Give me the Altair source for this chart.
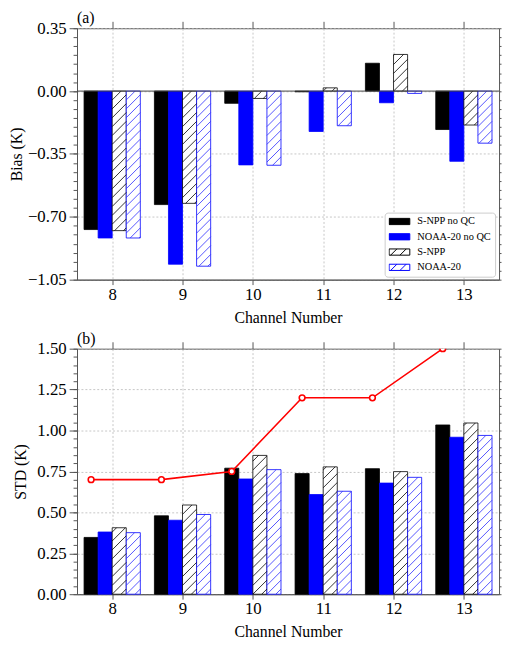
import altair as alt
import pandas as pd
import numpy as np

channels = [8, 9, 10, 11, 12, 13]
series = ["S-NPP no QC", "NOAA-20 no QC", "S-NPP", "NOAA-20"]
hatched = ["S-NPP", "NOAA-20"]

bias_snpp_noqc = [-0.771, -0.632, -0.068, -0.004, 0.155, -0.214]
bias_n20_noqc = [-0.818, -0.964, -0.411, -0.225, -0.065, -0.391]
bias_snpp = [-0.777, -0.625, -0.041, 0.018, 0.204, -0.189]
bias_n20 = [-0.818, -0.975, -0.413, -0.193, -0.013, -0.290]

std_snpp_noqc = [0.347, 0.479, 0.770, 0.737, 0.767, 1.034]
std_n20_noqc = [0.380, 0.452, 0.704, 0.609, 0.679, 0.959]
std_snpp = [0.406, 0.545, 0.848, 0.778, 0.749, 1.046]
std_n20 = [0.376, 0.487, 0.761, 0.629, 0.714, 0.970]

threshold = [0.70, 0.70, 0.75, 1.20, 1.20, 1.50]

bias_ticks = [-1.05, -0.70, -0.35, 0.0, 0.35]
std_ticks = [0.0, 0.25, 0.5, 0.75, 1.0, 1.25, 1.5]

FONT = "Liberation Serif"
fill_colors = ["black", "#0000ff", "white", "white"]
stroke_colors = ["black", "#0000ff", "black", "#0000ff"]
rect_path = "M-1,-0.3H1V0.3H-1Z"
hatch_path = rect_path + "M-0.85,0.3L-0.25,-0.3M0.05,0.3L0.65,-0.3"
shape_paths = [rect_path, rect_path, hatch_path, hatch_path]

BAR_W = 0.2


def bars_frame(vals_by_series):
    rows = []
    for i, (name, vals) in enumerate(zip(series, vals_by_series)):
        for c, v in zip(channels, vals):
            x0 = c - 2 * BAR_W + i * BAR_W
            rows.append(dict(series=name, ch=c, x0=x0, x1=x0 + BAR_W, v=v, base=0.0))
    return pd.DataFrame(rows)


def hatch_frame(df, kx, ky, spacing_px=9.0):
    m = kx / ky
    s = spacing_px / ky
    rows = []
    for r in df.itertuples():
        if r.series not in hatched:
            continue
        color = "black" if r.series == "S-NPP" else "#2a2aff"
        xl, xr = r.x0, r.x1
        ylo, yhi = min(0.0, r.v), max(0.0, r.v)
        rise = m * (xr - xl)
        n0 = int(np.floor((ylo - rise) / s)) - 1
        n1 = int(np.ceil(yhi / s)) + 1
        for n in range(n0, n1 + 1):
            c = n * s
            xs = max(xl, xl + (ylo - c) / m)
            xe = min(xr, xl + (yhi - c) / m)
            if xe - xs > 1e-6:
                rows.append(dict(hx0=xs, hx1=xe, hy0=c + m * (xs - xl),
                                 hy1=c + m * (xe - xl), hcolor=color))
    return pd.DataFrame(rows)


def minus_label():
    return "replace(format(datum.value, '.2f'), '-', '\u2212')"


def panel(vals, ydomain, yticks, ytitle, width, height, legend_xy, title,
          title_pad, title_offset, extra):
    df = bars_frame(vals)
    kx = width / 6.0
    ky = height / (ydomain[1] - ydomain[0])
    hdf = hatch_frame(df, kx, ky)
    xscale = alt.Scale(domain=[7.5, 13.5], nice=False, zero=False)
    yscale = alt.Scale(domain=ydomain, nice=False, zero=False)
    minor = np.round(np.arange(ydomain[0], ydomain[1] + 1e-9, 0.05), 2).tolist()

    legend = alt.Legend(
        title=None, orient="none", legendX=legend_xy[0], legendY=legend_xy[1],
        symbolSize=441, symbolStrokeWidth=1, symbolOpacity=1, labelFont=FONT,
        labelFontSize=10.5, labelColor="black", fillColor="white",
        strokeColor="#cccccc", padding=4, cornerRadius=3, rowPadding=4.5,
        clipHeight=10, labelOffset=7,
    )
    fill_scale = alt.Scale(domain=series, range=fill_colors)
    stroke_scale = alt.Scale(domain=series, range=stroke_colors)

    base_bars = alt.Chart(df).mark_bar(strokeWidth=0.8, opacity=1).encode(
        x=alt.X("x0:Q", scale=xscale, axis=alt.Axis(
            values=channels, grid=True, title="Channel Number", format="d",
            tickSize=5, labelPadding=2, titlePadding=7)),
        x2="x1:Q",
        y=alt.Y("v:Q", scale=yscale, axis=alt.Axis(
            values=yticks, grid=True, title=ytitle, labelExpr=minus_label(),
            tickSize=8, labelPadding=3, titlePadding=title_pad)),
        y2="base:Q",
        fill=alt.Fill("series:N", scale=fill_scale, legend=legend),
        stroke=alt.Stroke("series:N", scale=stroke_scale, legend=legend),
    )

    hatch = alt.Chart(hdf).mark_rule(strokeWidth=0.8).encode(
        x=alt.X("hx0:Q", scale=xscale, axis=None),
        x2="hx1:Q",
        y=alt.Y("hy0:Q", scale=yscale, axis=None),
        y2="hy1:Q",
        stroke=alt.Stroke("hcolor:N", scale=None),
    )

    helper_a = alt.Chart(df).transform_filter("datum.v > 100").mark_point(
        opacity=1, filled=True).encode(
        x=alt.X("x0:Q", scale=xscale, axis=alt.Axis(
            orient="top", values=channels, labels=False, title=None, grid=False,
            domain=False, tickSize=7)),
        y=alt.Y("v:Q", scale=yscale, axis=alt.Axis(
            orient="left", values=minor, labels=False, title=None, grid=False,
            domain=False, tickSize=4)),
        fill=alt.Fill("series:N", scale=fill_scale, legend=legend),
        stroke=alt.Stroke("series:N", scale=stroke_scale, legend=legend),
        shape=alt.Shape("series:N", scale=alt.Scale(domain=series, range=shape_paths),
                        legend=legend),
    )

    helper_b = alt.Chart(df).transform_filter("datum.v > 100").mark_point().encode(
        x=alt.X("x0:Q", scale=xscale, axis=None),
        y=alt.Y("v:Q", scale=yscale, axis=alt.Axis(
            orient="right", values=minor, labels=False, title=None, grid=False,
            domain=False, tickSize=2)),
    )

    layers = [base_bars, hatch] + extra(xscale, yscale) + [helper_a, helper_b]
    return alt.layer(*layers).resolve_axis(x="independent", y="independent").properties(
        width=width, height=height,
        title=alt.TitleParams(title, anchor="start", frame="group", font=FONT,
                              fontSize=16, fontWeight="normal", color="black",
                              offset=title_offset),
    )


def top_extra(xscale, yscale):
    zero = pd.DataFrame({"y0": [0.0]})
    return [alt.Chart(zero).mark_rule(color="#444444", strokeWidth=1).encode(
        y=alt.Y("y0:Q", scale=yscale, axis=None))]


def bottom_extra(xscale, yscale):
    tdf = pd.DataFrame({"ch": channels, "thr": threshold})
    tdf["xp"] = tdf["ch"] - 2 * BAR_W + BAR_W / 2
    line = alt.Chart(tdf).mark_line(color="red", strokeWidth=1.6, clip=True).encode(
        x=alt.X("xp:Q", scale=xscale, axis=None),
        y=alt.Y("thr:Q", scale=yscale, axis=None),
    )
    pts = alt.Chart(tdf).mark_point(shape="circle", filled=True, fill="white",
                                    stroke="red", strokeWidth=1.6, size=34,
                                    opacity=1, clip=True).encode(
        x=alt.X("xp:Q", scale=xscale, axis=None),
        y=alt.Y("thr:Q", scale=yscale, axis=None),
    )
    return [line, pts]


top = panel([bias_snpp_noqc, bias_n20_noqc, bias_snpp, bias_n20], [-1.05, 0.35],
            bias_ticks, "Bias (K)", 428, 255, (312, 187), "(a)", 3, -7, top_extra)
bottom = panel([std_snpp_noqc, std_n20_noqc, std_snpp, std_n20], [0.0, 1.5],
               std_ticks, "STD (K)", 428, 249, (5, 6), "(b)", 8, -7, bottom_extra)

chart = alt.ConcatChart(
    concat=[top, bottom], columns=1, align="none", spacing=4,
    padding={"left": 0, "top": -3, "right": 0, "bottom": 0},
    background="white",
).configure_view(stroke="#555555", strokeWidth=1).configure_axis(
    labelFont=FONT, labelFontSize=17, labelColor="black",
    titleFont=FONT, titleFontSize=16, titleFontWeight="normal", titleColor="black",
    domainColor="#555555", tickColor="#555555", tickWidth=1,
    gridColor="#b8b8b8", gridDash=[2, 2], gridWidth=0.8,
)

chart.save("out.html", embed_options={"renderer": "svg", "actions": False})
